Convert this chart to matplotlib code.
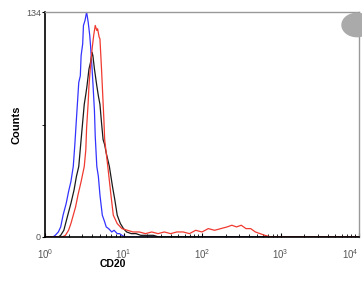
import matplotlib
matplotlib.use("Agg")
import matplotlib.pyplot as plt
import numpy as np

plt.rcParams["font.family"] = ["Liberation Sans", "DejaVu Sans"]
plt.rcParams["mathtext.fontset"] = "custom"
plt.rcParams["mathtext.rm"] = "Liberation Sans"
plt.rcParams["mathtext.it"] = "Liberation Sans"

# log10 fluorescence positions and counts per curve
blue_log = [0.00, 0.10, 0.13, 0.17, 0.20, 0.23, 0.27, 0.30, 0.33, 0.36, 0.38, 0.40, 0.43, 0.45, 0.46, 0.48,
            0.49, 0.51, 0.53, 0.55, 0.57, 0.58, 0.60, 0.61, 0.63, 0.64, 0.66, 0.68, 0.70, 0.73, 0.76,
            0.78, 0.81, 0.85, 0.88, 0.92, 0.95, 0.98, 1.02, 4.00]
blue_cnt = [0, 0, 1, 3, 6, 13, 20, 27, 33, 42, 55, 70, 92, 96, 108, 115,
            126, 129, 134, 128, 120, 114, 100, 92, 75, 60, 42, 36, 25, 13, 9,
            6, 5, 3, 4, 2, 2, 1, 0, 0]

red_log = [0.00, 0.22, 0.26, 0.30, 0.33, 0.36, 0.39, 0.42, 0.46, 0.50, 0.52, 0.53, 0.55, 0.56, 0.58, 0.60,
           0.62, 0.64, 0.66, 0.67, 0.69, 0.70, 0.72, 0.73, 0.75, 0.76, 0.78, 0.80, 0.84, 0.87, 0.92,
           0.98, 1.05, 1.12, 1.20, 1.28, 1.36, 1.44, 1.52, 1.60, 1.68, 1.76, 1.84, 1.92, 2.00, 2.08,
           2.16, 2.24, 2.32, 2.38, 2.44, 2.50, 2.56, 2.62, 2.68, 2.74, 2.80, 2.88, 4.00]
red_cnt = [0, 0, 1, 4, 8, 13, 18, 25, 33, 42, 52, 65, 80, 90, 102, 112,
           120, 126, 123, 124, 119, 118, 100, 90, 70, 58, 50, 42, 25, 13, 8,
           5, 4, 3, 3, 2, 3, 2, 3, 2, 3, 3, 2, 4, 3, 5,
           4, 5, 6, 7, 6, 7, 5, 5, 3, 2, 1, 0, 0]

black_log = [0.00, 0.17, 0.20, 0.24, 0.29, 0.33, 0.37, 0.40, 0.43, 0.46, 0.50, 0.52, 0.535, 0.56, 0.58, 0.60,
             0.61, 0.63, 0.66, 0.68, 0.70, 0.72, 0.74, 0.76, 0.78, 0.82, 0.86, 0.89, 0.92, 0.96, 1.00,
             1.04, 1.10, 1.16, 1.22, 1.30, 1.38, 1.45, 4.00]
black_cnt = [0, 0, 1, 4, 13, 20, 28, 36, 42, 58, 79, 85, 90, 100, 104, 110,
             108, 100, 90, 84, 79, 68, 58, 55, 50, 42, 30, 22, 13, 8, 5,
             3, 2, 2, 1, 1, 1, 0, 0]

curves = [(blue_log, blue_cnt, "#3333ff"), (black_log, black_cnt, "#1a1a1a"), (red_log, red_cnt, "#f03a30")]

xtick_vals = [1, 10, 100, 1000, 10000]
xtick_labels = ["$10^0$", "$10^1$", "$10^2$", "$10^3$", "$10^4$"]
ytick_vals = [0, 134]
ytick_labels = ["0", "134"]

fig = plt.figure(figsize=(3.62, 2.81), dpi=100)
ax = fig.add_axes([45/362, 1-237/281, 314/362, 225/281])
for lg, ct, col in curves:
    ax.plot(10 ** np.array(lg), ct, color=col, lw=0.9)

ax.set_xscale("log")
ax.set_xlim(1, 10000)
ax.set_ylim(0, 134)
ax.set_xticks(xtick_vals)
ax.set_xticklabels(xtick_labels, fontsize=7, color="#555555")
ax.get_xticklabels()[-1].set_horizontalalignment("right")
ax.set_yticks(ytick_vals)
ax.set_yticklabels(ytick_labels, fontsize=6.5, color="#555555")
ax.set_yticks([67], minor=True)
ax.tick_params(axis="x", which="major", direction="in", length=3, pad=7)
ax.tick_params(axis="x", which="minor", direction="in", length=2)
ax.tick_params(axis="y", which="both", direction="out", length=2, pad=1)
for s in ["left", "bottom"]:
    ax.spines[s].set_color("black")
    ax.spines[s].set_linewidth(1.2)
for s in ["top", "right"]:
    ax.spines[s].set_color("#999999")
    ax.spines[s].set_linewidth(1.0)

fig.text(113/362, 1-264/281, "CD20", fontsize=7.5, fontweight="bold", ha="center", va="center")
fig.text(17/362, 1-125/281, "Counts", fontsize=8, fontweight="bold", ha="center", va="center", rotation=90)

circ = plt.Circle((357/362, 1-25/281), 15/362, transform=fig.transFigure, color="#aaaaaa", zorder=5, clip_on=False)
fig.patches.append(circ)

fig.savefig("out.png", dpi=100)
